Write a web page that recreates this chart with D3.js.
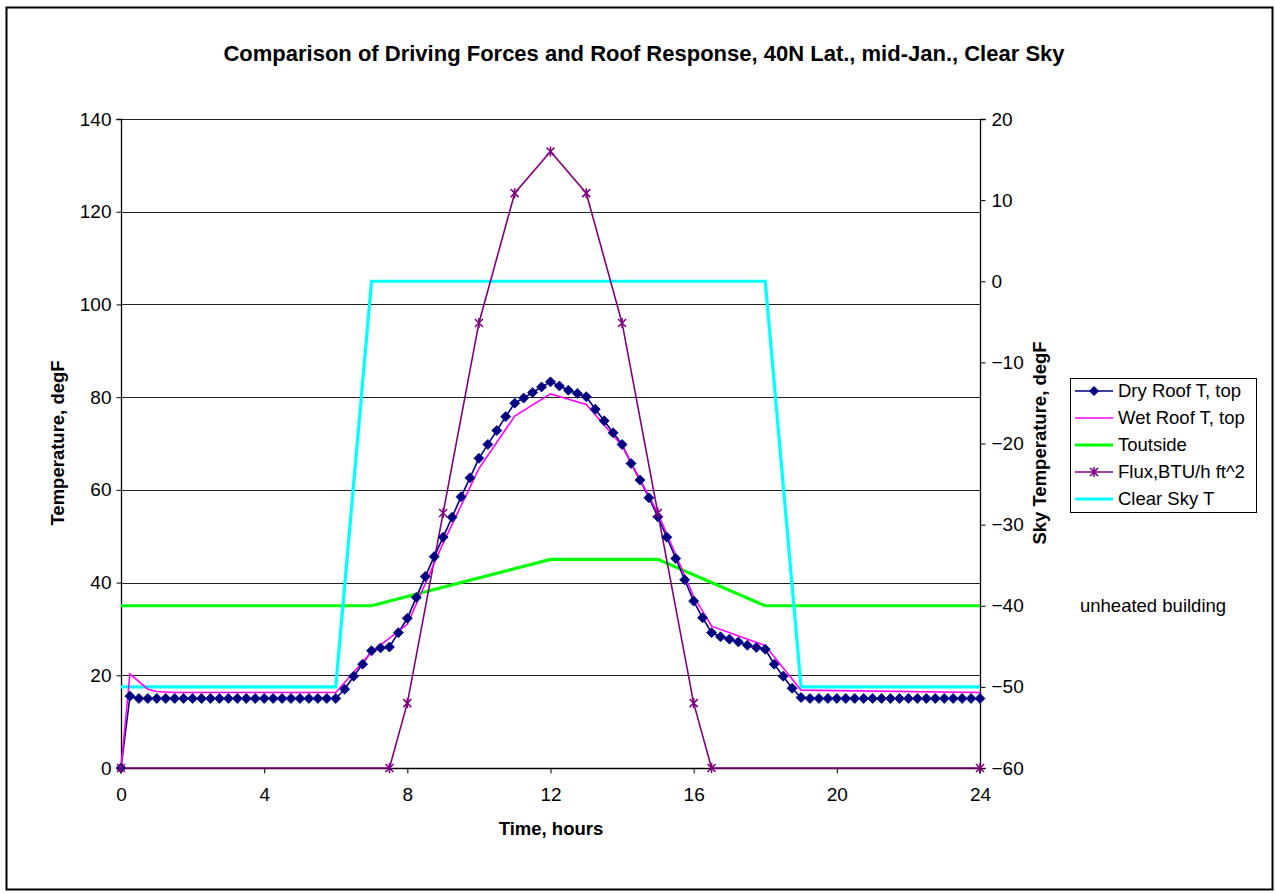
<!DOCTYPE html>
<html>
<head>
<meta charset="utf-8">
<script src="https://cdn.jsdelivr.net/npm/d3@7"></script>
<style>
  body { margin: 0; background: #fff; }
  text { font-family: "Liberation Sans", Arial, sans-serif; }
</style>
</head>
<body>
<div id="chart"></div>
<script>
const width = 1275;
const height = 893;

// dry roof top temperature, every quarter hour from 0 to 24
const dryTimes = d3.range(0, 24.001, 0.25);
const dryRoof = [
    0, 15.5,
    15, 15, 15, 15, 15, 15, 15, 15, 15, 15, 15, 15, 15, 15, 15, 15, 15, 15, 15, 15, 15, 15, 15,
    17.0, 19.8, 22.4, 25.3, 25.9, 26.1, 29.2, 32.3, 36.8, 41.3, 45.6, 49.8,
    54.1, 58.5, 62.6, 66.8, 69.8, 72.8, 75.8, 78.7, 79.8, 81.0, 82.2, 83.3,
    82.4, 81.5, 80.8, 80.1, 77.4, 74.9, 72.3, 69.8, 65.7, 62.1, 58.3, 54.2,
    49.8, 45.2, 40.6, 36.0, 32.4, 29.2, 28.3, 27.8, 27.2, 26.5, 26.0, 25.6,
    22.4, 19.8, 17.2, 15.2,
    15, 15, 15, 15, 15, 15, 15, 15, 15, 15, 15, 15, 15, 15, 15, 15, 15, 15, 15, 15
];

const wetTimes = [0, 0.25, 0.75, 1, 1.5, 6, 7, 8, 9, 10, 11, 12, 13, 14, 15, 16, 16.5, 18, 19, 24];
const wetRoof = [0, 20.3, 17.0, 16.5, 16.3, 16.3, 25.0, 31.0, 48.5, 64.6, 75.9, 80.7, 78.4, 69.5, 55.0, 37.0, 30.6, 26.4, 16.8, 16.3];

const outTimes = [0, 7, 12, 15, 18, 24];
const tOutside = [35, 35, 45, 45, 35, 35];

const fluxTimes = [0, 7.5, 8, 9, 10, 11, 12, 13, 14, 15, 16, 16.5, 24];
const flux = [0, 0, 14, 55, 96, 124, 133, 124, 96, 55, 14, 0, 0];

const skyTimes = [0, 6, 7, 18, 19, 24];
const skyT = [-50, -50, 0, 0, -50, -50];

const xTicks = [0, 4, 8, 12, 16, 20, 24];
const yLeftTicks = [0, 20, 40, 60, 80, 100, 120, 140];
const yRightTicks = [-60, -50, -40, -30, -20, -10, 0, 10, 20];

const svg = d3.select("#chart")
    .append("svg")
    .attr("width", width)
    .attr("height", height);

// outer frame
svg.append("rect")
    .attr("x", 6.5).attr("y", 7.5)
    .attr("width", 1266).attr("height", 882)
    .attr("fill", "white")
    .attr("stroke", "black")
    .attr("stroke-width", 2);

const x = d3.scaleLinear().domain([0, 24]).range([121, 980]);
const yL = d3.scaleLinear().domain([0, 140]).range([768, 119]);
const yR = d3.scaleLinear().domain([-60, 20]).range([768, 119]);

// gridlines
svg.append("g")
    .selectAll("line")
    .data(yLeftTicks)
    .enter()
    .append("line")
    .attr("x1", 121).attr("x2", 980)
    .attr("y1", d => Math.round(yL(d)) + 0.5)
    .attr("y2", d => Math.round(yL(d)) + 0.5)
    .attr("stroke", "#222")
    .attr("stroke-width", 1);

// axes
const axisFont = "19px";
const gx = svg.append("g")
    .attr("transform", "translate(0,768.5)")
    .call(d3.axisBottom(x).tickValues(xTicks).tickSize(5).tickPadding(14));
const gl = svg.append("g")
    .attr("transform", "translate(121.5,0)")
    .call(d3.axisLeft(yL).tickValues(yLeftTicks).tickSize(5).tickPadding(5));
const gr = svg.append("g")
    .attr("transform", "translate(980.5,0)")
    .call(d3.axisRight(yR).tickValues(yRightTicks).tickSize(5).tickPadding(6));
[gx, gl, gr].forEach(g => {
    g.selectAll("path").attr("stroke", "black").attr("stroke-width", 1.3);
    g.selectAll("line").attr("stroke", "black");
    g.selectAll("text")
        .style("font-family", "'Liberation Sans', Arial, sans-serif")
        .style("font-size", axisFont)
        .attr("fill", "black");
});
gl.select(".domain").attr("d", "M-5,119.5H0V768.5H-5");
gr.select(".domain").attr("d", "M5,119.5H0V768.5H5");
gx.select(".domain").attr("d", "M121,5V0H980V5");

// series lines
function drawLine(times, vals, scale, color, w) {
    const line = d3.line()
        .x((d, i) => x(times[i]))
        .y(d => scale(d));
    svg.append("path")
        .datum(vals)
        .attr("d", line)
        .attr("fill", "none")
        .attr("stroke", color)
        .attr("stroke-width", w)
        .attr("stroke-linejoin", "miter");
}

drawLine(outTimes, tOutside, yL, "#00FF00", 3.2);
drawLine(skyTimes, skyT, yR, "#00FFFF", 3.2);
drawLine(fluxTimes, flux, yL, "#800080", 1.6);
drawLine(dryTimes, dryRoof, yL, "#000080", 1.6);
drawLine(wetTimes, wetRoof, yL, "#FF00FF", 1.6);

// dry roof diamonds
svg.append("g")
    .selectAll("path")
    .data(dryRoof)
    .enter()
    .append("path")
    .attr("transform", (d, i) => "translate(" + x(dryTimes[i]) + "," + yL(d) + ")")
    .attr("d", "M0,-5L5,0L0,5L-5,0Z")
    .attr("fill", "#000080")
    .attr("stroke", "#000080")
    .attr("stroke-width", 0.8);

// flux stars
const starPath = "M-4,-4L4,4M-4,4L4,-4M0,-5V5";
svg.append("g")
    .selectAll("path")
    .data(flux)
    .enter()
    .append("path")
    .attr("transform", (d, i) => "translate(" + x(fluxTimes[i]) + "," + yL(d) + ")")
    .attr("d", starPath)
    .attr("fill", "none")
    .attr("stroke", "#800080")
    .attr("stroke-width", 1.6);

// titles
svg.append("text")
    .attr("x", 644).attr("y", 61)
    .attr("text-anchor", "middle")
    .style("font-size", "22px").style("font-weight", "bold")
    .text("Comparison of Driving Forces and Roof Response, 40N Lat., mid-Jan., Clear Sky");

svg.append("text")
    .attr("x", 551).attr("y", 835)
    .attr("text-anchor", "middle")
    .style("font-size", "18.5px").style("font-weight", "bold")
    .text("Time, hours");

svg.append("text")
    .attr("transform", "translate(64,443) rotate(-90)")
    .attr("text-anchor", "middle")
    .style("font-size", "18.5px").style("font-weight", "bold")
    .text("Temperature, degF");

svg.append("text")
    .attr("transform", "translate(1046,443) rotate(-90)")
    .attr("text-anchor", "middle")
    .style("font-size", "18.5px").style("font-weight", "bold")
    .text("Sky Temperature, degF");

svg.append("text")
    .attr("x", 1080).attr("y", 612)
    .style("font-size", "18.5px")
    .text("unheated building");

// legend
const legendItems = [
    {name: "Dry Roof T, top", color: "#000080", w: 1.6, marker: "diamond"},
    {name: "Wet Roof T, top", color: "#FF00FF", w: 1.6, marker: null},
    {name: "Toutside", color: "#00FF00", w: 3.2, marker: null},
    {name: "Flux,BTU/h ft^2", color: "#800080", w: 1.6, marker: "star"},
    {name: "Clear Sky T", color: "#00FFFF", w: 3.2, marker: null}
];
const lg = svg.append("g").attr("transform", "translate(1070,378)");
lg.append("rect")
    .attr("x", 0.5).attr("y", 0.5)
    .attr("width", 186).attr("height", 134)
    .attr("fill", "white")
    .attr("stroke", "black")
    .attr("stroke-width", 1);
legendItems.forEach((d, i) => {
    const cy = 13 + i * 27;
    lg.append("line")
        .attr("x1", 5).attr("x2", 43)
        .attr("y1", cy).attr("y2", cy)
        .attr("stroke", d.color)
        .attr("stroke-width", d.w);
    if (d.marker === "diamond") {
        lg.append("path")
            .attr("transform", "translate(24," + cy + ")")
            .attr("d", "M0,-5L5,0L0,5L-5,0Z")
            .attr("fill", d.color);
    } else if (d.marker === "star") {
        lg.append("path")
            .attr("transform", "translate(24," + cy + ")")
            .attr("d", starPath)
            .attr("stroke", d.color)
            .attr("stroke-width", 1.6);
    }
    lg.append("text")
        .attr("x", 48).attr("y", cy + 6)
        .style("font-size", "18.5px")
        .text(d.name);
});
</script>
</body>
</html>
